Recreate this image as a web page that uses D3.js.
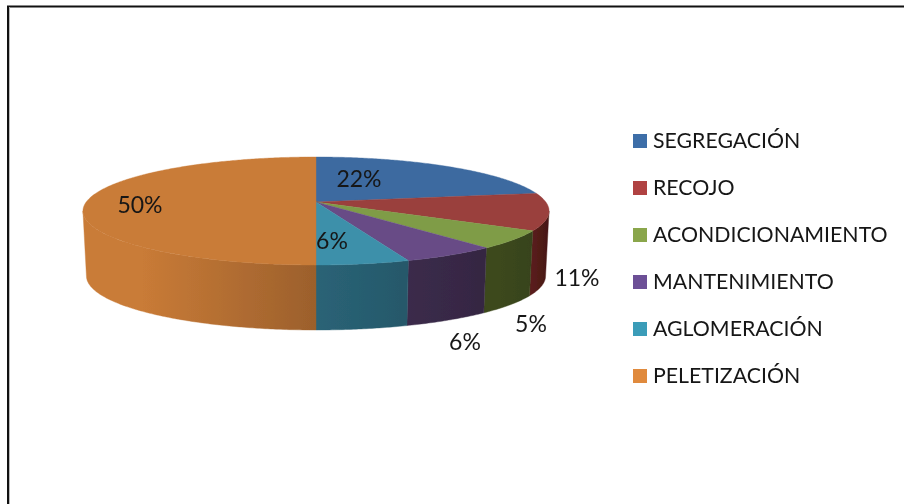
<!DOCTYPE html>
<html>
<head>
<meta charset="utf-8">
<script src="https://cdn.jsdelivr.net/npm/d3@7"></script>
<style>
html,body{margin:0;padding:0;background:#fff;overflow:hidden}
svg{display:block}
text{font-family:Lato,"Open Sans",sans-serif;fill:#161616}
</style>
</head>
<body>
<svg id="c" width="904" height="504"></svg>
<script>
const categories = ["SEGREGACIÓN","RECOJO","ACONDICIONAMIENTO","MANTENIMIENTO","AGLOMERACIÓN","PELETIZACIÓN"];
const values = [22.3,11.1,5.4,5.7,5.5,50];
const labels = ["22%","11%","5%","6%","6%","50%"];
const topColors = ["#3e6ba0","#9a3f3c","#7f9c47","#674c86","#3d90aa","#c97b37"];
const legendColors = ["#3c6ea8","#b04342","#8aa64c","#6c5096","#3a9cb8","#e08a3e"];
const wallLight = ["#3e6ba0","#5a1f1c","#3e4a1e","#3b2b4b","#2a6376","#c97b37"];
const wallDark = ["#3e6ba0","#451713","#37431a","#352642","#25586a","#9c602c"];
const labelAnchors = [[359,178],[577,277],[531,323],[465,341],[332,240],[140,204]];

const W = 904, H = 504;
const svg = d3.select("#c");
const defs = svg.append("defs");
defs.append("filter").attr("id","soft").attr("x","-5%").attr("y","-5%").attr("width","110%").attr("height","110%")
  .append("feGaussianBlur").attr("stdDeviation",0.55);

svg.append("rect").attr("width",W).attr("height",H).attr("fill","#fff");
const frame = svg.append("g");
frame.append("line").attr("x1",7).attr("x2",W).attr("y1",6.5).attr("y2",6.5).attr("stroke","#111").attr("stroke-width",2);
frame.append("line").attr("x1",8).attr("x2",8).attr("y1",6).attr("y2",H).attr("stroke","#111").attr("stroke-width",2);
frame.append("line").attr("x1",9.5).attr("x2",9.5).attr("y1",7).attr("y2",H).attr("stroke","#bbb").attr("stroke-width",1);

// perspective projection of the pie disc
const cx = 316, cy = 202, k = 1/6, bx = 229.8, ay = 52.5, depth = 65, shrink = 0.985;
function project(theta, drop){
  const u = Math.sin(theta), v = -Math.cos(theta), d = 1 - k*v;
  const s = drop ? shrink : 1;
  return [cx + s*bx*u/d, cy + ay*v/d + (drop ? depth : 0)];
}
const arcs = d3.pie().sort(null).value(d=>d)(values);
const line = d3.line();
function arcPoints(a0,a1,drop){
  const n = Math.max(2,Math.ceil((a1-a0)/0.01));
  return d3.range(n+1).map(i=>project(a0+(a1-a0)*i/n,drop));
}
const wallStart = Math.PI - Math.acos(1/6), wallEnd = Math.PI + Math.acos(1/6);
const chart = svg.append("g").attr("filter","url(#soft)");

// side walls
arcs.forEach((a,i)=>{
  const s = Math.max(a.startAngle,wallStart), e = Math.min(a.endAngle,wallEnd);
  if(e<=s) return;
  const top = arcPoints(s,e,false), bot = arcPoints(s,e,true).reverse();
  const gid = "wall"+i;
  const g = defs.append("linearGradient").attr("id",gid).attr("gradientUnits","userSpaceOnUse")
    .attr("x1",top[0][0]).attr("x2",top[top.length-1][0]).attr("y1",0).attr("y2",0);
  if(i===5){
    g.append("stop").attr("offset",0).attr("stop-color",wallDark[i]);
    g.append("stop").attr("offset",0.75).attr("stop-color",wallLight[i]);
    g.append("stop").attr("offset",1).attr("stop-color",wallLight[i]);
  } else {
    g.append("stop").attr("offset",0).attr("stop-color",wallDark[i]);
    g.append("stop").attr("offset",1).attr("stop-color",wallLight[i]);
  }
  chart.append("path").attr("d",line(top.concat(bot))+"Z").attr("fill","url(#"+gid+")").attr("stroke","url(#"+gid+")").attr("stroke-width",0.4);
});
// top faces
arcs.forEach((a,i)=>{
  const pts = [[cx,cy]].concat(arcPoints(a.startAngle,a.endAngle,false));
  chart.append("path").attr("d",line(pts)+"Z").attr("fill",topColors[i]).attr("stroke",topColors[i]).attr("stroke-width",0.4);
});

// value labels
const textG = svg.append("g").attr("filter","url(#soft)");
labels.forEach((t,i)=>{
  textG.append("text").attr("x",labelAnchors[i][0]).attr("y",labelAnchors[i][1]).attr("text-anchor","middle")
    .attr("dominant-baseline","central").attr("font-size",23).text(t);
});

// legend
const legendY = d3.scalePoint().domain(categories).range([141,376]);
const leg = textG.selectAll("g.l").data(categories).join("g").attr("class","l")
  .attr("transform",d=>`translate(632,${legendY(d)})`);
leg.append("rect").attr("x",1).attr("y",-7).attr("width",14).attr("height",14).attr("fill",(d,i)=>legendColors[i]);
leg.append("text").attr("x",21).attr("y",-1).attr("dominant-baseline","central").attr("font-size",21.3).text(d=>d);
</script>
</body>
</html>
